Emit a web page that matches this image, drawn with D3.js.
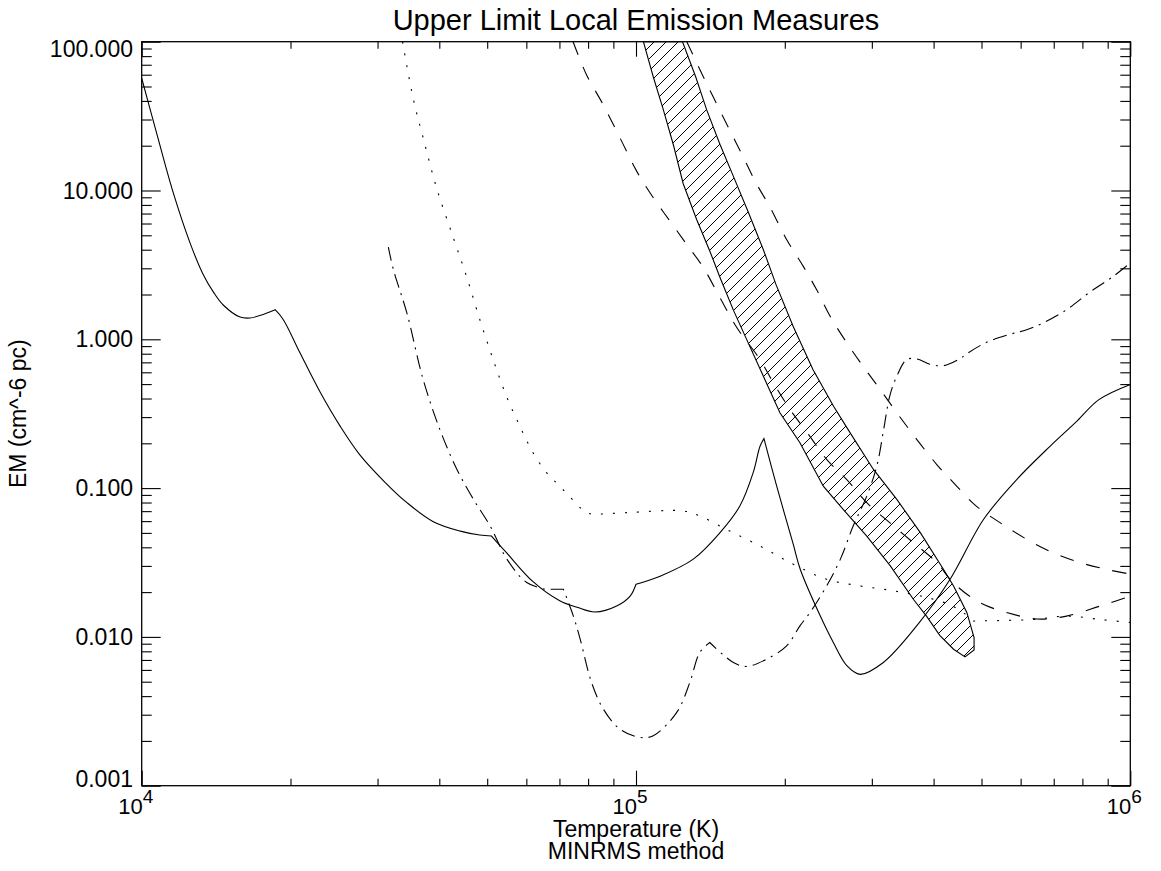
<!DOCTYPE html>
<html>
<head>
<meta charset="utf-8">
<script src="https://cdn.jsdelivr.net/npm/d3@7"></script>
<style>
  body { margin: 0; background: #fff; }
  text { font-family: "Liberation Sans", Arial, Helvetica, sans-serif; fill: #000; }
</style>
</head>
<body>
<div id="chart"></div>
<script>
// values (T in K, EM in cm^-6 pc)
const solidT  = [1.0e4, 1.072e4, 1.159e4, 1.253e4, 1.33e4, 1.40e4, 1.462e4, 1.581e4, 1.656e4, 1.762e4, 1.862e4, 1.933e4, 2.09e4, 2.30e4, 2.52e4, 2.76e4, 3.11e4, 3.44e4, 3.89e4, 4.41e4, 4.83e4, 5.10e4, 5.47e4, 6.19e4, 7.01e4, 7.6e4, 8.26e4, 9.16e4, 9.73e4, 1.0e5, 1.119e5, 1.306e5, 1.479e5, 1.622e5, 1.726e5, 1.782e5, 1.815e5, 1.926e5, 2.08e5, 2.15e5, 2.36e5, 2.506e5, 2.67e5, 2.84e5, 3.16e5, 3.70e5, 4.32e5, 5.05e5, 5.89e5, 6.88e5, 7.80e5, 8.64e5, 1.0e6];
const solidEM = [56.8, 24.3, 9.6, 4.43, 2.75, 2.05, 1.70, 1.41, 1.39, 1.47, 1.58, 1.36, 0.811, 0.437, 0.261, 0.168, 0.109, 0.0798, 0.0595, 0.0514, 0.0484, 0.0476, 0.0368, 0.0235, 0.0175, 0.0158, 0.0147, 0.0162, 0.0188, 0.0226, 0.0256, 0.0333, 0.0502, 0.0757, 0.127, 0.191, 0.215, 0.103, 0.042, 0.0284, 0.0138, 0.0092, 0.0064, 0.0056, 0.0067, 0.0119, 0.0244, 0.0617, 0.114, 0.191, 0.282, 0.393, 0.497];
const solidKinks = [1.862e4, 5.10e4, 1.0e5, 1.815e5];

const dashDotT  = [3.155e4, 3.23e4, 3.44e4, 3.71e4, 4.01e4, 4.34e4, 4.69e4, 5.07e4, 5.48e4, 6.01e4, 6.55e4, 7.13e4, 7.47e4, 7.71e4, 8.13e4, 8.59e4, 9.28e4, 1.019e5, 1.084e5, 1.209e5, 1.285e5, 1.346e5, 1.41e5, 1.574e5, 1.675e5, 1.837e5, 2.017e5, 2.148e5, 2.25e5, 2.43e5, 2.59e5, 2.75e5, 2.93e5, 3.07e5, 3.17e5, 3.26e5, 3.37e5, 3.53e5, 3.70e5, 3.93e5, 4.19e5, 4.52e5, 4.67e5, 5.12e5, 5.71e5, 6.17e5, 6.67e5, 7.43e5, 8.24e5, 9.24e5, 1.0e6];
const dashDotEM = [4.17, 2.94, 1.50, 0.537, 0.248, 0.134, 0.084, 0.0556, 0.0333, 0.0232, 0.0209, 0.0209, 0.0138, 0.00966, 0.00494, 0.00327, 0.0024, 0.00211, 0.00217, 0.00311, 0.00494, 0.00786, 0.00917, 0.00673, 0.00633, 0.00708, 0.00871, 0.0119, 0.0146, 0.022, 0.0332, 0.0556, 0.0883, 0.1405, 0.248, 0.414, 0.565, 0.731, 0.738, 0.68, 0.665, 0.74, 0.80, 0.955, 1.08, 1.16, 1.29, 1.58, 2.05, 2.65, 3.26];
const dashDotKinks = [6.55e4, 7.13e4, 1.41e5];

const dottedT  = [3.37e4, 3.54e4, 3.71e4, 3.95e4, 4.27e4, 4.54e4, 4.83e4, 5.14e4, 5.47e4, 5.82e4, 6.19e4, 6.59e4, 7.01e4, 7.82e4, 8.07e4, 9.57e4, 1.247e5, 1.347e5, 1.524e5, 1.782e5, 2.08e5, 2.43e5, 2.84e5, 3.32e5, 3.88e5, 4.3e5, 4.6e5, 4.81e5, 6.37e5, 7.43e5, 8.67e5, 1.0e6];
const dottedEM = [100, 41.9, 22.6, 10.4, 4.81, 2.65, 1.36, 0.731, 0.414, 0.261, 0.173, 0.127, 0.103, 0.0702, 0.0673, 0.0684, 0.0702, 0.0649, 0.0528, 0.0408, 0.0308, 0.0244, 0.022, 0.0204, 0.0184, 0.0165, 0.0145, 0.0128, 0.0131, 0.0138, 0.0131, 0.0125];
const dottedKinks = [7.82e4, 4.81e5];

const dashAT  = [7.46e4, 7.94e4, 8.58e4, 9.28e4, 1.003e5, 1.084e5, 1.171e5, 1.266e5, 1.369e5, 1.479e5, 1.599e5, 1.782e5, 1.897e5, 2.05e5, 2.235e5, 2.43e5, 2.67e5, 2.93e5, 3.26e5, 3.64e5, 4.06e5, 4.38e5, 4.96e5, 5.62e5, 6.47e5, 7.43e5, 8.68e5, 1.0e6];
const dashAEM = [100, 60.0, 37.8, 22.6, 13.5, 8.93, 6.24, 4.35, 3.03, 1.90, 1.20, 0.731, 0.509, 0.337, 0.229, 0.156, 0.114, 0.0798, 0.0586, 0.043, 0.0316, 0.0232, 0.017, 0.0146, 0.0132, 0.0138, 0.0161, 0.0188];

const dashBT  = [1.267e5, 1.369e5, 1.456e5, 1.549e5, 1.648e5, 1.753e5, 1.866e5, 2.018e5, 2.18e5, 2.32e5, 2.47e5, 2.67e5, 2.88e5, 3.12e5, 3.37e5, 3.70e5, 4.06e5, 4.42e5, 4.88e5, 5.45e5, 6.17e5, 6.98e5, 7.91e5, 8.96e5, 1.0e6];
const dashBEM = [100, 57.9, 38.2, 25.3, 16.8, 11.1, 7.74, 4.67, 3.09, 2.15, 1.43, 0.946, 0.659, 0.459, 0.321, 0.212, 0.144, 0.106, 0.0757, 0.0586, 0.0453, 0.0368, 0.0316, 0.0284, 0.0264];

// hatched band: left edge top->bottom, right edge bottom->top
const bandLeftT  = [1.035e5, 1.084e5, 1.136e5, 1.19e5, 1.246e5, 1.327e5, 1.412e5, 1.479e5, 1.574e5, 1.675e5, 1.81e5, 1.955e5, 2.146e5, 2.393e5, 2.625e5, 2.93e5, 3.27e5, 3.64e5, 3.87e5, 4.12e5, 4.39e5, 4.63e5];
const bandLeftEM = [100, 57.9, 34.8, 20.3, 11.1, 6.36, 3.88, 2.60, 1.57, 0.995, 0.565, 0.321, 0.202, 0.103, 0.0719, 0.0476, 0.030, 0.0179, 0.0138, 0.0102, 0.00826, 0.00734];
const bandRightT  = [4.83e5, 4.83e5, 4.67e5, 4.39e5, 4.19e5, 3.76e5, 3.37e5, 3.02e5, 2.71e5, 2.51e5, 2.28e5, 2.08e5, 1.92e5, 1.81e5, 1.686e5, 1.578e5, 1.479e5, 1.39e5, 1.321e5, 1.242e5];
const bandRightEM = [0.00818, 0.0099, 0.0146, 0.022, 0.0284, 0.0502, 0.084, 0.134, 0.236, 0.355, 0.627, 1.22, 2.33, 4.0, 7.19, 12.2, 20.4, 34.8, 57.9, 100];

const yTickVals = [100, 10, 1, 0.1, 0.01, 0.001];
const yTickLabels = ["100.000", "10.000", "1.000", "0.100", "0.010", "0.001"];
const xTickVals = [1e4, 1e5, 1e6];
const xTickExp = ["4", "5", "6"];

let W = 1161, H = 871;
let L = 141.7, R = 1130.3, T = 41.7, B = 785.7;

var svg = d3.select("#chart")
  .append("svg")
  .attr("width", W)
  .attr("height", H)
  .attr("xmlns", "http://www.w3.org/2000/svg");

var x = d3.scaleLog().domain([1e4, 1e6]).range([L, R]);
var y = d3.scaleLog().domain([0.001, 100]).range([B, T]);

let defs = svg.append("defs");
defs.append("clipPath").attr("id", "plotclip")
  .append("rect").attr("x", L).attr("y", T).attr("width", R - L).attr("height", B - T);
let pat = defs.append("pattern").attr("id", "hatch")
  .attr("patternUnits", "userSpaceOnUse").attr("width", 12).attr("height", 12);
pat.append("path")
  .attr("d", "M0,12 L12,0 M-3,3 L3,-3 M9,15 L15,9")
  .attr("stroke", "#000").attr("stroke-width", 1);

function zip(ts, ems) { return ts.map(function(t, i) { return [t, ems[i]]; }); }

// split a series at its kinks so that the smoothing keeps those corners sharp
function pieces(pts, kinks) {
  let out = [[]];
  pts.forEach(function(p) {
    out[out.length - 1].push(p);
    if (kinks.indexOf(p[0]) >= 0) out.push([p]);
  });
  return out.filter(function(s) { return s.length > 1; });
}

var line = d3.line()
  .x(function(d) { return x(d[0]); })
  .y(function(d) { return y(d[1]); });
var smooth = d3.line()
  .curve(d3.curveCatmullRom.alpha(0.5))
  .x(function(d) { return x(d[0]); })
  .y(function(d) { return y(d[1]); });

let plot = svg.append("g").attr("clip-path", "url(#plotclip)");

// band
let band = zip(bandLeftT, bandLeftEM).concat(zip(bandRightT, bandRightEM));
plot.append("path")
  .attr("d", line(band) + "Z")
  .attr("fill", "url(#hatch)")
  .attr("stroke", "#000")
  .attr("stroke-width", 1.1);

let series = [
  { t: solidT, em: solidEM, kinks: solidKinks, dash: null },
  { t: dashDotT, em: dashDotEM, kinks: dashDotKinks, dash: "14,6,2,6" },
  { t: dottedT, em: dottedEM, kinks: dottedKinks, dash: "2,10" },
  { t: dashAT, em: dashAEM, kinks: [], dash: "14,13" },
  { t: dashBT, em: dashBEM, kinks: [], dash: "14,13" }
];
series.forEach(function(s) {
  let d = pieces(zip(s.t, s.em), s.kinks).map(function(seg) { return smooth(seg); })
    .map(function(p, i) { return i ? "L" + p.slice(1) : p; }).join("");
  plot.append("path")
    .attr("d", d)
    .attr("fill", "none")
    .attr("stroke", "#000")
    .attr("stroke-width", 1.1)
    .attr("stroke-dasharray", s.dash);
});

// minor tick values
let xMinor = [], yMinor = [];
[1e4, 1e5].forEach(function(d) { for (let k = 2; k <= 9; k++) xMinor.push(k * d); });
[0.001, 0.01, 0.1, 1, 10].forEach(function(d) { for (let k = 2; k <= 9; k++) yMinor.push(k * d); });

function ticks(axis, pos, vals, len) {
  let g = svg.append("g").attr("transform", pos)
    .call(axis.tickValues(vals).tickSize(-len).tickSizeOuter(0).tickFormat(""));
  g.select(".domain").remove();
  g.selectAll("line").attr("stroke", "#000").attr("stroke-width", 1.1);
}
ticks(d3.axisLeft(y), "translate(" + L + ",0)", yMinor, 10);
ticks(d3.axisLeft(y), "translate(" + L + ",0)", yTickVals, 19);
ticks(d3.axisRight(y), "translate(" + R + ",0)", yMinor, 10);
ticks(d3.axisRight(y), "translate(" + R + ",0)", yTickVals, 19);
ticks(d3.axisBottom(x), "translate(0," + B + ")", xMinor, 7);
ticks(d3.axisBottom(x), "translate(0," + B + ")", xTickVals, 15);
ticks(d3.axisTop(x), "translate(0," + T + ")", xMinor, 7);
ticks(d3.axisTop(x), "translate(0," + T + ")", xTickVals, 15);

svg.append("rect")
  .attr("x", L).attr("y", T).attr("width", R - L).attr("height", B - T)
  .attr("fill", "none").attr("stroke", "#000").attr("stroke-width", 1.3);

// y labels (end labels kept inside the axis range)
svg.selectAll(".ylab").data(yTickVals).enter().append("text")
  .attr("x", 133)
  .attr("y", function(d) { return Math.min(Math.max(y(d), T + 7), B - 7); })
  .attr("dy", "0.35em")
  .attr("text-anchor", "end")
  .attr("font-size", 23)
  .text(function(d, i) { return yTickLabels[i]; });

// x labels 10^n
xTickVals.forEach(function(d, i) {
  let t = svg.append("text")
    .attr("x", x(d) - 6).attr("y", 814)
    .attr("text-anchor", "middle")
    .attr("font-size", 22);
  t.append("tspan").text("10");
  t.append("tspan").attr("font-size", 19).attr("dy", -11).text(xTickExp[i]);
});

svg.append("text")
  .attr("x", (L + R) / 2).attr("y", 30)
  .attr("text-anchor", "middle").attr("font-size", 29)
  .text("Upper Limit Local Emission Measures");

svg.append("text")
  .attr("x", (L + R) / 2).attr("y", 837)
  .attr("text-anchor", "middle").attr("font-size", 23)
  .text("Temperature (K)");

svg.append("text")
  .attr("x", (L + R) / 2).attr("y", 859)
  .attr("text-anchor", "middle").attr("font-size", 23)
  .text("MINRMS method");

svg.append("text")
  .attr("transform", "translate(26," + ((T + B) / 2) + ") rotate(-90)")
  .attr("text-anchor", "middle").attr("font-size", 23)
  .text("EM (cm^-6 pc)");
</script>
</body>
</html>
